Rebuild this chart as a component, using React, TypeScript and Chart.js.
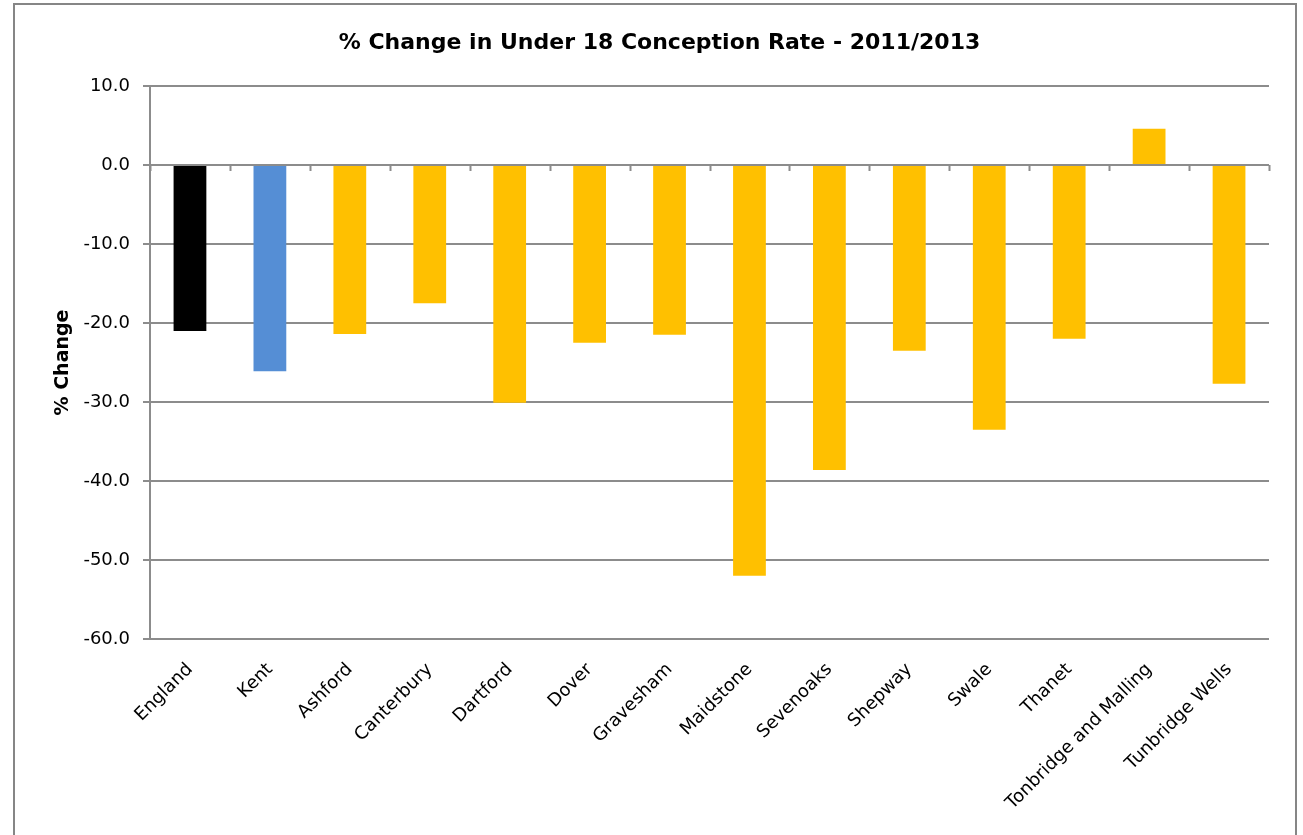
import React, { useEffect, useRef } from "react";
import { Chart, registerables } from "chart.js";

Chart.register(...registerables);

const categories = [
  "England", "Kent", "Ashford", "Canterbury", "Dartford", "Dover", "Gravesham",
  "Maidstone", "Sevenoaks", "Shepway", "Swale", "Thanet", "Tonbridge and Malling", "Tunbridge Wells",
];
const changeValues = [-21.0, -26.1, -21.4, -17.5, -30.1, -22.5, -21.5, -52.0, -38.6, -23.5, -33.5, -22.0, 4.6, -27.7];
const barColors = [
  "#000000", "#558ED5", "#FFC000", "#FFC000", "#FFC000", "#FFC000", "#FFC000",
  "#FFC000", "#FFC000", "#FFC000", "#FFC000", "#FFC000", "#FFC000", "#FFC000",
];
const chartTitle = "% Change in Under 18 Conception Rate - 2011/2013";
const yAxisTitle = "% Change";
const yMin = -60;
const yMax = 10;
const yStep = 10;

const GRID = "#8C8C8C";
const FONT = "'DejaVu Sans', Verdana, sans-serif";

const zeroTicks = {
  id: "zeroTicks",
  beforeDatasetsDraw(chart: any) {
    const x = chart.scales.x;
    const y = chart.scales.y;
    const ctx = chart.ctx;
    const y0 = y.getPixelForValue(0);
    ctx.save();
    ctx.strokeStyle = GRID;
    ctx.lineWidth = 2;
    ctx.beginPath();
    for (let i = 0; i <= categories.length; i++) {
      const px = x.getPixelForValue(i - 0.5);
      ctx.moveTo(Math.round(px) + 0.5, y0);
      ctx.lineTo(Math.round(px) + 0.5, y0 + 6);
    }
    ctx.stroke();
    ctx.restore();
  },
};

export default function App() {
  const ref = useRef<HTMLCanvasElement | null>(null);
  useEffect(() => {
    if (!ref.current) return;
    const chart = new Chart(ref.current, {
      type: "bar",
      data: {
        labels: categories,
        datasets: [
          {
            data: changeValues,
            backgroundColor: barColors,
            borderWidth: 0,
            categoryPercentage: 1,
            barPercentage: 0.41,
          },
        ],
      },
      options: {
        animation: false,
        responsive: false,
        layout: { padding: { left: 50, right: 34, top: 0, bottom: 0 } },
        plugins: {
          legend: { display: false },
          tooltip: { enabled: false },
          title: {
            display: true,
            text: chartTitle,
            color: "#000000",
            font: { family: FONT, size: 22, weight: "bold" },
            padding: { top: 30, bottom: 29.6 },
          },
        },
        scales: {
          x: {
            grid: { display: false },
            border: { display: false },
            ticks: {
              color: "#000000",
              font: { family: FONT, size: 18 },
              minRotation: 45,
              maxRotation: 45,
              autoSkip: false,
              padding: 12,
            },
            afterFit: (s: any) => {
              s.height = 196;
            },
          },
          y: {
            min: yMin,
            max: yMax,
            ticks: {
              stepSize: yStep,
              color: "#000000",
              font: { family: FONT, size: 18 },
              padding: 13,
              callback: (v: any) => Number(v).toFixed(1),
            },
            grid: { color: GRID, lineWidth: 2, tickLength: 7, drawTicks: true },
            border: { display: true, color: GRID, width: 2 },
            title: {
              display: true,
              text: yAxisTitle,
              color: "#000000",
              font: { family: FONT, size: 19, weight: "bold" },
              padding: { top: 2, bottom: 0 },
            },
            afterFit: (s: any) => {
              s.width = 100;
            },
          },
        },
      },
      plugins: [zeroTicks],
    });
    return () => chart.destroy();
  }, []);

  return (
    <div style={{ position: "absolute", left: 0, top: 0, width: 1303, height: 835, overflow: "hidden", background: "#ffffff" }}>
      <div
        style={{
          position: "absolute",
          left: 13,
          top: 3,
          width: 1284,
          height: 900,
          border: "2px solid #868686",
          boxSizing: "border-box",
        }}
      />
      <canvas ref={ref} width={1303} height={835} style={{ position: "absolute", left: 0, top: 0 }} />
    </div>
  );
}
